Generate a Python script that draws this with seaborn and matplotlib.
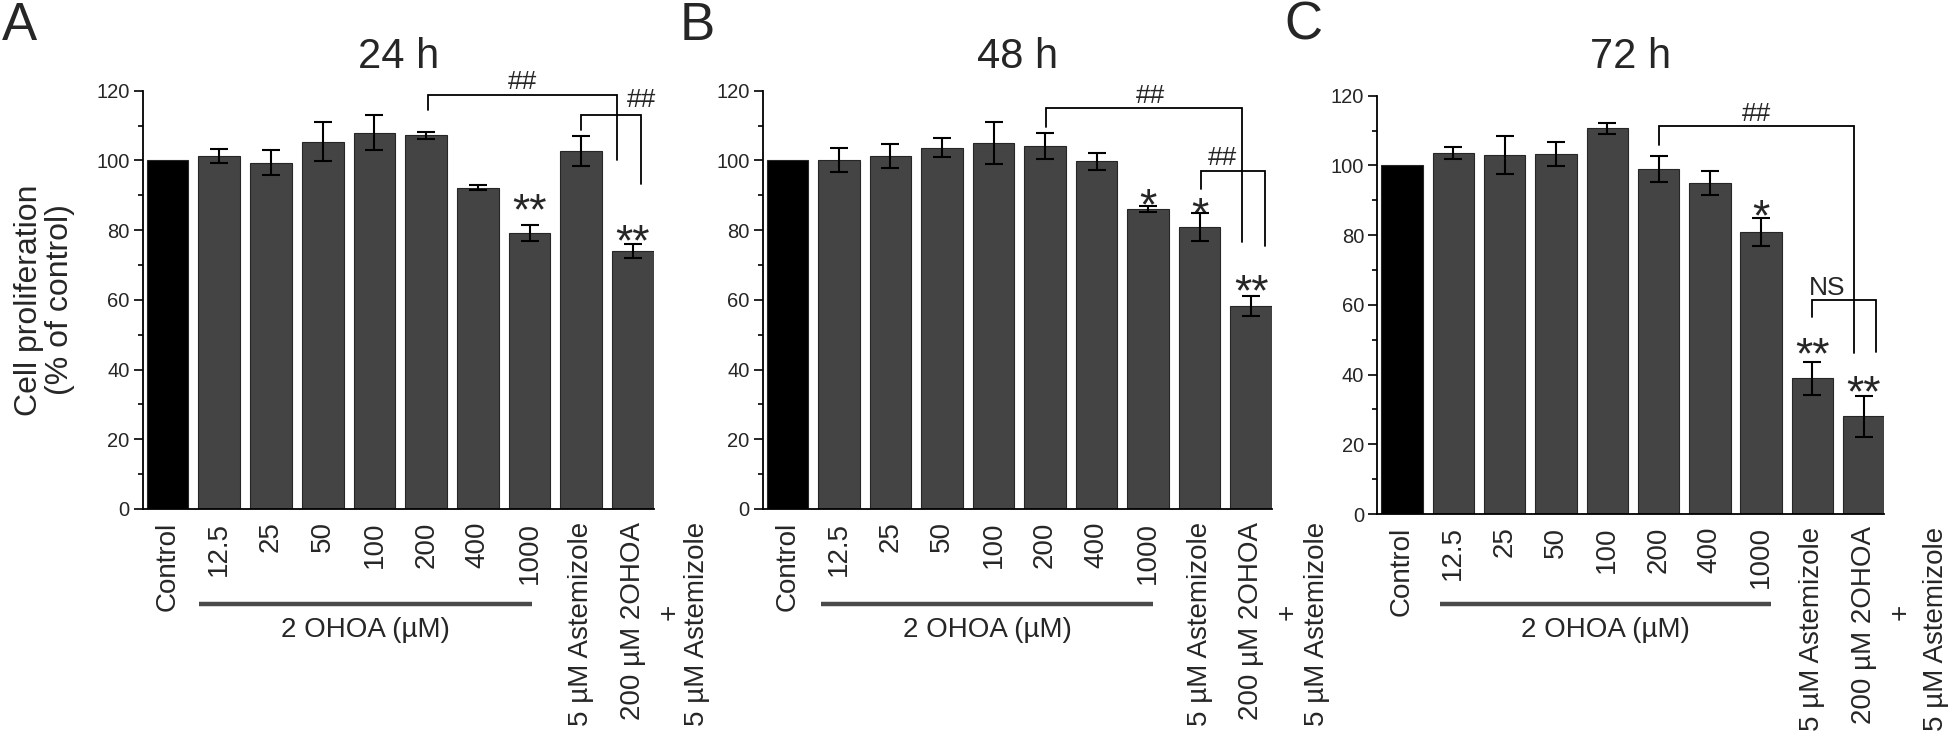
import numpy as np
import pandas as pd
import matplotlib
matplotlib.use("Agg")
import matplotlib.pyplot as plt
import matplotlib.transforms as mtransforms
import seaborn as sns

# ---------------- data ----------------
categories = ["Control", "12.5", "25", "50", "100", "200", "400", "1000",
              "5 µM Astemizole", "200 µM 2OHOA"]
combo_plus = "+"
combo_second = "5 µM Astemizole"
group_label = "2 OHOA (µM)"
panel_letters = ["A", "B", "C"]
panel_titles = ["24 h", "48 h", "72 h"]
y_ticks = [0, 20, 40, 60, 80, 100, 120]

vals_24h = [100, 101.3, 99.4, 105.3, 108.0, 107.2, 92.2, 79.1, 102.7, 74.0]
err_24h = [0, 2.0, 3.7, 5.6, 5.0, 1.0, 0.8, 2.3, 4.2, 1.9]
vals_48h = [100, 100.2, 101.2, 103.7, 104.9, 104.2, 99.7, 86.0, 80.8, 58.2]
err_48h = [0, 3.5, 3.4, 2.8, 6.0, 3.8, 2.4, 0.8, 4.0, 2.9]
vals_72h = [100, 103.6, 103.0, 103.3, 110.6, 98.9, 94.9, 81.0, 38.9, 28.0]
err_72h = [0, 1.8, 5.5, 3.4, 1.6, 3.8, 3.5, 4.0, 4.7, 5.8]

stars_24h = [(7, "**", 89.0), (9, "**", 80.1)]
stars_48h = [(7, "*", 90.6), (8, "*", 87.8), (9, "**", 65.9)]
stars_72h = [(7, "*", 88.7), (8, "**", 49.2), (9, "**", 38.4)]

brackets_24h = [([5.03, 5.03, 8.70, 8.70], [114.4, 118.9, 118.9, 100.0]),
                ([8.0, 8.0, 9.15, 9.15], [108.6, 113.1, 113.1, 93.1])]
bracket_labels_24h = [(6.87, 120.6, "##"), (9.17, 115.3, "##")]
brackets_48h = [([5.02, 5.02, 8.82, 8.82], [109.6, 115.1, 115.1, 76.7]),
                ([8.02, 8.02, 9.27, 9.27], [91.8, 96.9, 96.9, 75.5])]
bracket_labels_48h = [(7.04, 116.5, "##"), (8.45, 98.6, "##")]
brackets_72h = [([5.0, 5.0, 8.8, 8.8], [105.8, 111.2, 111.2, 46.1]),
                ([8.0, 8.0, 9.24, 9.24], [56.4, 61.4, 61.4, 46.6])]
bracket_labels_72h = [(6.9, 112.7, "##"), (8.29, 62.7, "NS")]

group_span = [(0.6, 7.05), (0.65, 7.1), (0.75, 7.2)]

panels = [
    (vals_24h, err_24h, stars_24h, brackets_24h, bracket_labels_24h),
    (vals_48h, err_48h, stars_48h, brackets_48h, bracket_labels_48h),
    (vals_72h, err_72h, stars_72h, brackets_72h, bracket_labels_72h),
]

# ---------------- style ----------------
sns.set_style("ticks")
plt.rcParams["font.family"] = ["Liberation Sans", "DejaVu Sans"]
plt.rcParams["axes.linewidth"] = 1.2

W, H = 1960, 740
PT = 0.72  # points per pixel at dpi 100
fig = plt.figure(figsize=(W / 100, H / 100), dpi=100)

axes_px = [  # left, axis-bottom y, top y, width  (pixels)
    (142.7, 509, 90.7, 511),
    (762.7, 509, 90.7, 509),
    (1377.3, 514, 95.7, 507),
]
letter_x = [2, 680, 1284]
second_line_dx = [64, 66, 72]

bar_colors = ["#000000"] + ["#444444"] * 9

for i, (vals, errs, stars, brackets, blabels) in enumerate(panels):
    l, b, t, w = axes_px[i]
    ax = fig.add_axes([l / W, (H - b) / H, w / W, (b - t) / H])
    df = pd.DataFrame({"cond": categories, "val": vals})
    sns.barplot(data=df, x="cond", y="val", hue="cond", order=categories,
                hue_order=categories, palette=bar_colors, legend=False,
                width=0.806, edgecolor="#262626", linewidth=0.8,
                errorbar=None, ax=ax)
    xs = np.arange(len(categories))
    e = np.array(errs)
    m = e > 0
    ax.errorbar(xs[m], np.array(vals)[m], yerr=e[m], fmt="none",
                ecolor="black", elinewidth=1.5, capsize=6.5, capthick=1.5,
                zorder=5)

    ax.set_xlim(-0.48, 9.4)
    ax.set_ylim(0, 120)
    ax.set_yticks(y_ticks)
    ax.set_yticks(np.arange(10, 120, 20), minor=True)
    ax.tick_params(axis="y", which="major", direction="out", length=6.5,
                   width=1.2, labelsize=14.5, pad=3, color="black")
    ax.tick_params(axis="y", which="minor", direction="out", length=3.5,
                   width=1.2, color="black")
    ax.tick_params(axis="x", length=0, labelsize=20, pad=9)
    ax.set_xticks(xs)
    ax.set_xticklabels(categories, rotation=90, va="top", ha="center")
    ax.set_xlabel("")
    sns.despine(ax=ax)
    for sp in ["left", "bottom"]:
        ax.spines[sp].set_color("black")
        ax.spines[sp].set_linewidth(1.3)

    if i == 0:
        ax.set_ylabel("Cell proliferation\n(% of control)", fontsize=23,
                      labelpad=15, linespacing=1.05)
    else:
        ax.set_ylabel("")

    # remaining lines of the combined-treatment label
    ax.annotate(combo_plus, xy=(9, 0), xycoords=("data", "axes fraction"),
                xytext=(37 * PT, -(612 - b) * PT), textcoords="offset points",
                rotation=90, ha="center", va="center", fontsize=20,
                annotation_clip=False)
    ax.annotate(combo_second, xy=(9, 0), xycoords=("data", "axes fraction"),
                xytext=(second_line_dx[i] * PT, -9), textcoords="offset points",
                rotation=90, ha="center", va="top", fontsize=20,
                annotation_clip=False)

    # group line and label
    trans = mtransforms.blended_transform_factory(ax.transData, ax.transAxes)
    g0, g1 = group_span[i]
    ybase = -(604 - b) / (b - t)
    ax.plot([g0, g1], [ybase, ybase], color="#4a4a4a", lw=3.2,
            transform=trans, clip_on=False, solid_capstyle="butt")
    ax.text((g0 + g1) / 2, -(630 - b) / (b - t), group_label, transform=trans,
            ha="center", va="center", fontsize=20)

    # stars
    for (xi, s, yv) in stars:
        ax.annotate(s, xy=(xi, yv), xytext=(0, -0.58 * 32),
                    textcoords="offset points", ha="center", va="baseline",
                    fontsize=32, annotation_clip=False)

    # brackets
    for (bx, by) in brackets:
        ax.plot(bx, by, color="black", lw=1.3, clip_on=False,
                solid_joinstyle="miter")
    for (bx, by, s) in blabels:
        ax.text(bx, by, s, ha="center", va="baseline", fontsize=19,
                clip_on=False)

    # title and panel letter
    ax.text(0.5, (b - 68) / (b - t), panel_titles[i], transform=ax.transAxes,
            ha="center", va="baseline", fontsize=30)
    fig.text(letter_x[i] / W, 1 - 40 / H, panel_letters[i], ha="left",
             va="baseline", fontsize=38)

fig.savefig("out.png", dpi=100)
